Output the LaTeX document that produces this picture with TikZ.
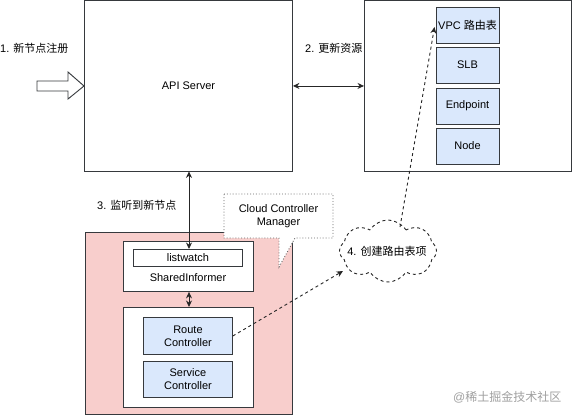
\documentclass[tikz,border=0pt]{standalone}
\usepackage{fontspec}
\setmainfont{Liberation Sans}
\newfontfamily\cjk{Noto Sans CJK SC}
\usetikzlibrary{arrows.meta,shapes.symbols}
\definecolor{edge}{HTML}{36393D}
\definecolor{pinkfill}{HTML}{F8CECC}
\definecolor{bluefill}{HTML}{DAE8FC}
\definecolor{wm}{HTML}{A0A0A0}
\tikzset{
  box/.style={draw=edge, line width=0.9pt, fill=white, rectangle, inner sep=0pt},
  bluebox/.style={draw=edge, line width=0.9pt, fill=bluefill, rectangle, inner sep=0pt, align=center},
  lbl/.style={inner sep=0pt, font=\fontsize{11}{13}\selectfont},
  conn/.style={draw=black!85, line width=0.9pt},
  tip/.style={-{Stealth[length=6.5pt,width=6pt]}},
  bitip/.style={{Stealth[length=6.5pt,width=6pt]}-{Stealth[length=6.5pt,width=6pt]}},
  dashconn/.style={draw=black!85, line width=0.9pt, dash pattern=on 3pt off 3pt},
}
\begin{document}
\begin{tikzpicture}[x=1pt,y=-1pt, font=\fontsize{11}{13}\selectfont]
\useasboundingbox (0,0) rectangle (573,415);
\fill[white] (0,0) rectangle (573,415);

% API server
\node[box, minimum width=208, minimum height=170, anchor=north west] (api) at (84,0.5) {API Server};
% resources box
\node[box, minimum width=207, minimum height=170, anchor=north west] (res) at (364,0.5) {};
\node[bluebox, minimum width=63, minimum height=36] (vpc) at (467.5,25) {VPC {\cjk 路由表}};
\node[bluebox, minimum width=63, minimum height=36] (slb) at (467.5,65) {SLB};
\node[bluebox, minimum width=63, minimum height=36] (ep) at (467.5,106) {Endpoint};
\node[bluebox, minimum width=63, minimum height=36] (nd) at (467.5,146) {Node};

% labels
\node[lbl, anchor=west] (l1) at (0,48) {1. {\cjk 新节点注册}};
\node[lbl, anchor=west] (l2) at (305,48) {2. {\cjk 更新资源}};
\node[lbl, anchor=west] (l3) at (97,205) {3. {\cjk 监听到新节点}};

% block arrow
\draw[draw=edge, line width=0.9pt, fill=white] (37,81) -- (68,81) -- (68,72) -- (84,86) -- (68,99) -- (68,91) -- (37,91) -- cycle;

% arrow 2
\draw[conn, bitip] (api.east) -- (res.west);

% pink CCM container
\node[draw=edge, line width=0.9pt, fill=pinkfill, minimum width=207, minimum height=182, anchor=north west, inner sep=0pt] (ccmbox) at (85,232) {};
\node[box, minimum width=130, minimum height=50, anchor=north west] (si) at (123,241) {};
\node[box, minimum width=109, minimum height=17, anchor=north west] (lw) at (133,249) {listwatch};
\node[lbl] (sitext) at (188,277.5) {SharedInformer};
\node[box, minimum width=130, minimum height=100, anchor=north west] (low) at (123,307) {};
\node[bluebox, minimum width=89, minimum height=37, anchor=north west] (rc) at (143,317) {Route\\Controller};
\node[bluebox, minimum width=89, minimum height=36, anchor=north west] (sc) at (143,361) {Service\\Controller};

% arrow 3
\draw[conn, bitip] (lw.north -| 189,0) -- (api.south -| 189,0);
\draw[conn, bitip] (si.south -| 189,0) -- (low.north -| 189,0);

% callout
\draw[draw=black!60, line width=0.9pt, dotted, fill=white] (224,194) -- (333,194) -- (333,238) -- (295,238) -- (279,267) -- (279,238) -- (224,238) -- cycle;
\node[lbl, align=center, font=\fontsize{11}{13}\selectfont] (ccm) at (278.5,216) {Cloud Controller\\Manager};

% cloud
\node[cloud, draw=black!85, line width=0.9pt, dash pattern=on 3pt off 3pt, fill=white, cloud puffs=8, cloud puff arc=115, minimum width=97, minimum height=62, inner sep=0pt] (cloud) at (388,251) {};
\node[lbl] (cloudtext) at (387,251) {4. {\cjk 创建路由表项}};
\coordinate (cin) at (343,271);
\coordinate (cout) at (400,227);
\coordinate (vpcin) at (434.5,27);

\draw[dashconn, tip] (rc.east) -- (cin);
\draw[dashconn, tip] (cout) -- (vpcin);

% watermark
\node[inner sep=0pt, anchor=west, text=wm, font=\fontsize{12}{14}\selectfont] (wmk) at (453,397) {@{\cjk 稀土掘金技术社区}};
\end{tikzpicture}
\end{document}
